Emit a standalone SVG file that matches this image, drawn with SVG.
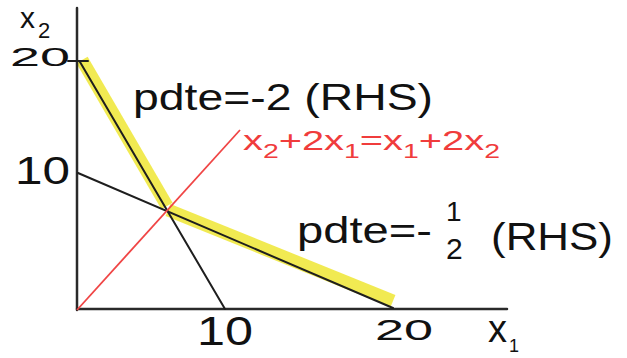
<svg xmlns="http://www.w3.org/2000/svg" width="627" height="358" viewBox="0 0 627 358">
<style>
.axis{stroke:#2a2a2a;stroke-width:2.5;fill:none;stroke-linecap:round}
.ln{stroke:#1e1e1e;stroke-width:2;fill:none;stroke-linecap:round}
.red{stroke:#f04545;stroke-width:1.8;fill:none}
.hl{stroke:#eee634;stroke-opacity:0.85;stroke-width:13;fill:none;stroke-linecap:butt}
.t{font-family:"Liberation Sans",Arial,sans-serif;fill:#111}
.rt{font-family:"Liberation Sans",Arial,sans-serif;fill:#f03c3c}
</style>
<rect width="627" height="358" fill="#fff"/>
<g id="highlight">
<line class="hl" x1="82" y1="60" x2="167" y2="206"/>
<line class="hl" x1="168" y1="210" x2="393" y2="301"/>
</g>
<g id="axes">
<line class="axis" x1="77" y1="8" x2="77" y2="310"/>
<line class="axis" x1="77" y1="309" x2="507" y2="309"/>
<line class="ln" x1="68" y1="61" x2="88" y2="61"/>
</g>
<g id="connectors">
<line class="ln" x1="80" y1="62" x2="225" y2="309"/>
<line class="ln" x1="78" y1="173" x2="393" y2="308"/>
<line class="red" x1="77" y1="310" x2="240" y2="130"/>
</g>
<g id="axis-labels">
<text class="t" x="20" y="28" font-size="30">x</text>
<text class="t" x="38" y="38" font-size="22">2</text>
<text class="t" x="10" y="66" font-size="25" textLength="60" lengthAdjust="spacingAndGlyphs">20</text>
<text class="t" x="15" y="184" font-size="38" textLength="55" lengthAdjust="spacingAndGlyphs">10</text>
<text class="t" x="197" y="345" font-size="40" textLength="56" lengthAdjust="spacingAndGlyphs">10</text>
<text class="t" x="375" y="340" font-size="30" textLength="58" lengthAdjust="spacingAndGlyphs">20</text>
<text class="t" x="488" y="342" font-size="38">x</text>
<text class="t" x="509" y="352" font-size="18">1</text>
</g>
<g id="label-slope-2">
<text class="t" x="133" y="110" font-size="36" textLength="300" lengthAdjust="spacingAndGlyphs">pdte=-2 (RHS)</text>
</g>
<g id="label-equal">
<text class="rt" x="243" y="150" font-size="28" textLength="257" lengthAdjust="spacingAndGlyphs">x<tspan font-size="20" dy="8">2</tspan><tspan dy="-8">+2x</tspan><tspan font-size="20" dy="8">1</tspan><tspan dy="-8">=x</tspan><tspan font-size="20" dy="8">1</tspan><tspan dy="-8">+2x</tspan><tspan font-size="20" dy="8">2</tspan></text>
</g>
<g id="label-slope-half">
<text class="t" x="297" y="243" font-size="36" textLength="135" lengthAdjust="spacingAndGlyphs">pdte=-</text>
<text class="t" x="446" y="221" font-size="28">1</text>
<text class="t" x="446" y="259" font-size="30">2</text>
<text class="t" x="491" y="250" font-size="38" textLength="122" lengthAdjust="spacingAndGlyphs">(RHS)</text>
</g>
</svg>
